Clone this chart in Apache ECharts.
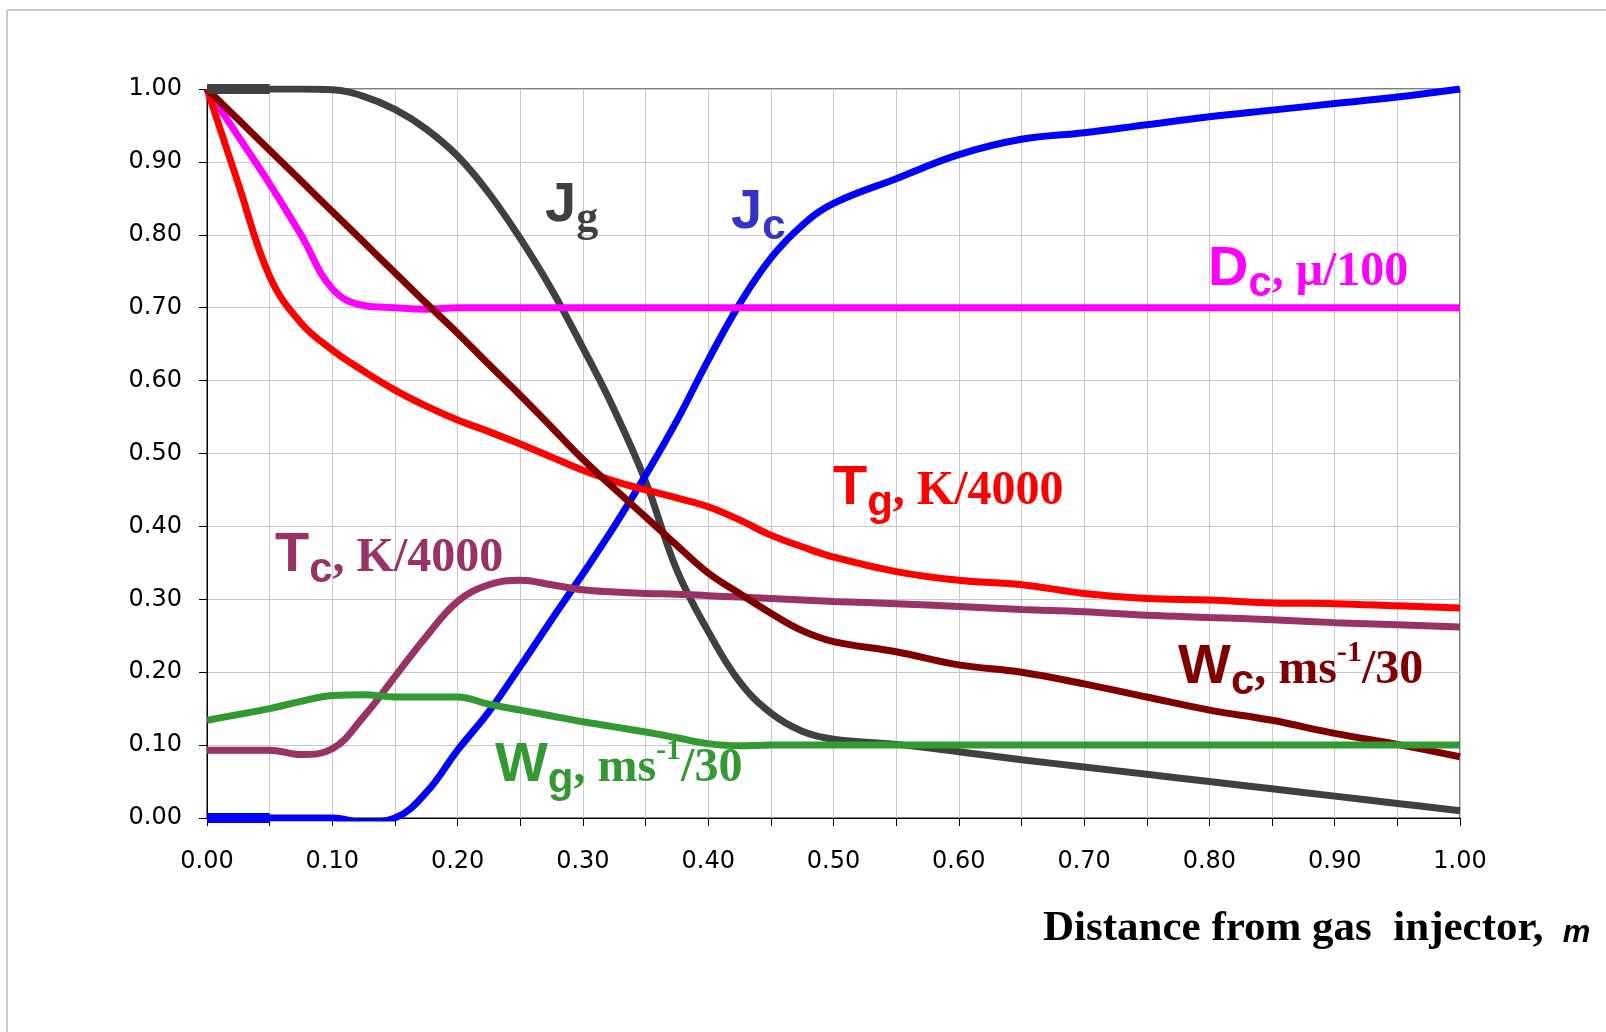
<!DOCTYPE html>
<html>
<head>
<meta charset="utf-8">
<title>Distance from gas injector</title>
<script src="https://cdn.jsdelivr.net/npm/echarts/dist/echarts.min.js"></script>
<style>
  html, body { margin: 0; padding: 0; background: #fff; }
  #main { width: 1606px; height: 1032px; }
</style>
</head>
<body>
<div id="main"></div>
<script>
// distance from the gas injector, m
const xs = [0, 0.025, 0.05, 0.075, 0.1, 0.125, 0.15, 0.175, 0.2, 0.225, 0.25, 0.275, 0.3, 0.325,
  0.35, 0.375, 0.4, 0.425, 0.45, 0.475, 0.5, 0.55, 0.6, 0.65, 0.7, 0.75, 0.8, 0.85, 0.9, 0.95, 1.0];

// normalised profiles
const jg = [1.0, 1.0, 1.0, 1.0, 0.999, 0.99, 0.972, 0.945, 0.908, 0.857, 0.795, 0.725, 0.645, 0.56,
  0.462, 0.34, 0.256, 0.187, 0.144, 0.119, 0.108, 0.101, 0.091, 0.080, 0.070, 0.060, 0.050, 0.040, 0.030, 0.020, 0.010];
const jc = [0, 0, 0, 0, 0, -0.006, 0, 0.035, 0.093, 0.146, 0.208, 0.272, 0.335, 0.40,
  0.47, 0.545, 0.628, 0.705, 0.768, 0.813, 0.843, 0.877, 0.910, 0.931, 0.94, 0.951, 0.962, 0.971, 0.980, 0.989, 1.0];
const dc = [1.0, 0.935, 0.87, 0.80, 0.726, 0.703, 0.70, 0.698, 0.70, 0.70, 0.70, 0.70, 0.70, 0.70,
  0.70, 0.70, 0.70, 0.70, 0.70, 0.70, 0.70, 0.70, 0.70, 0.70, 0.70, 0.70, 0.70, 0.70, 0.70, 0.70, 0.70];
const tg = [1.0, 0.87, 0.743, 0.679, 0.642, 0.613, 0.587, 0.565, 0.546, 0.53, 0.513, 0.495, 0.477, 0.462,
  0.45, 0.439, 0.427, 0.409, 0.388, 0.372, 0.358, 0.338, 0.326, 0.320, 0.308, 0.301, 0.299, 0.295, 0.294, 0.291, 0.288];
const tc = [0.093, 0.093, 0.093, 0.087, 0.095, 0.139, 0.194, 0.249, 0.297, 0.32, 0.326, 0.32, 0.313, 0.31,
  0.308, 0.307, 0.305, 0.303, 0.301, 0.299, 0.297, 0.294, 0.29, 0.286, 0.283, 0.278, 0.275, 0.272, 0.268, 0.265, 0.262];
const wc = [1.0, 0.958, 0.916, 0.874, 0.832, 0.79, 0.748, 0.706, 0.665, 0.622, 0.58, 0.536, 0.492, 0.452,
  0.413, 0.374, 0.336, 0.308, 0.281, 0.257, 0.242, 0.228, 0.21, 0.20, 0.184, 0.166, 0.148, 0.134, 0.116, 0.101, 0.084];
const wg = [0.134, 0.142, 0.150, 0.160, 0.168, 0.169, 0.166, 0.166, 0.166, 0.156, 0.148, 0.14, 0.132, 0.125,
  0.118, 0.11, 0.102, 0.099, 0.10, 0.10, 0.10, 0.10, 0.10, 0.10, 0.10, 0.10, 0.10, 0.10, 0.10, 0.10, 0.10];

// the short heavier stubs that Jg and Jc start with
const stubX = [0, 0.05];
const jgStub = [1.0, 1.0];
const jcStub = [0, 0];

const seriesNames = ['Jg', 'Jc', 'Dc', 'Tg', 'Tc', 'Wc', 'Wg'];
const seriesData = [jg, jc, dc, tg, tc, wc, wg];
const seriesColors = ['#404040', '#0000ff', '#ff00ff', '#ff0000', '#993366', '#800000', '#339933'];

const axisFont = 'DejaVu Sans';
const chart = echarts.init(document.getElementById('main'));

const lineSeries = seriesNames.map(function (name, i) {
  return {
    name: name,
    type: 'line',
    smooth: 0.4,
    showSymbol: false,
    data: xs.map(function (x, k) { return [x, seriesData[i][k]]; }),
    lineStyle: {color: seriesColors[i], width: 7},
    itemStyle: {color: seriesColors[i]}
  };
});
[[jgStub, seriesColors[0]], [jcStub, seriesColors[1]]].forEach(function (s) {
  lineSeries.push({
    type: 'line',
    showSymbol: false,
    clip: false,
    data: stubX.map(function (x, k) { return [x, s[0][k]]; }),
    lineStyle: {color: s[1], width: 10, cap: 'butt'}
  });
});

let option = {
  animation: false,
  backgroundColor: '#fff',
  grid: {
    left: 207, right: 146, top: 89, bottom: 214,
    show: true, borderColor: '#000', borderWidth: 1
  },
  xAxis: {
    type: 'value', min: 0, max: 1, interval: 0.05,
    axisLine: {lineStyle: {color: '#000', width: 1}},
    axisTick: {show: true, length: 8, lineStyle: {color: '#000'}},
    splitLine: {show: true, lineStyle: {color: '#c8c8c8', width: 1}},
    axisLabel: {
      color: '#000', fontFamily: axisFont, fontSize: 24, margin: 32,
      formatter: function (v) {
        return Math.round(v * 100) % 10 === 0 ? v.toFixed(2) : '';
      }
    }
  },
  yAxis: {
    type: 'value', min: 0, max: 1, interval: 0.1,
    axisLine: {show: true, lineStyle: {color: '#000', width: 1}},
    axisTick: {show: true, length: 8, lineStyle: {color: '#000'}},
    splitLine: {show: true, lineStyle: {color: '#c8c8c8', width: 1}},
    axisLabel: {
      color: '#000', fontFamily: axisFont, fontSize: 24, margin: 25,
      formatter: function (v) { return v.toFixed(2); }
    }
  },
  series: lineSeries
};
chart.setOption(option);

/**
 * curve labels: main letter, subscript, then the unit part
 */
const SANS = '"Liberation Sans", Arial, sans-serif';
const SERIF = '"Liberation Serif", "Times New Roman", serif';
const STY = {
  big:  {font: 'bold 56px ' + SANS, size: 56, shift: 0},
  sub:  {font: 'bold 42px ' + SANS, size: 42, shift: 10},
  subs: {font: 'bold 44px ' + SERIF, size: 44, shift: 10},
  unit: {font: 'bold 48px ' + SERIF, size: 48, shift: 0},
  sup:  {font: 'bold 30px ' + SERIF, size: 30, shift: -23}
};
const curveLabels = [
  {x: 0.2698, y: 0.8134, color: '#404040', parts: [['J', 'big'], ['g', 'subs']]},
  {x: 0.4182, y: 0.8038, color: '#3333cc', parts: [['J', 'big'], ['c', 'sub']]},
  {x: 0.7989, y: 0.7257, color: '#ff00ff', parts: [['D', 'big'], ['c', 'sub'], [', \u03bc/100', 'unit']]},
  {x: 0.4996, y: 0.4252, color: '#ff0000', parts: [['T', 'big'], ['g', 'sub'], [', K/4000', 'unit']]},
  {x: 0.0543, y: 0.3333, color: '#993366', parts: [['T', 'big'], ['c', 'sub'], [', K/4000', 'unit']]},
  {x: 0.7750, y: 0.1797, color: '#800000', parts: [['W', 'big'], ['c', 'sub'], [', ms', 'unit'], ['-1', 'sup'], ['/30', 'unit']]},
  {x: 0.2298, y: 0.0453, color: '#339933', parts: [['W', 'big'], ['g', 'sub'], [', ms', 'unit'], ['-1', 'sup'], ['/30', 'unit']]}
];

const mctx = document.createElement('canvas').getContext('2d');
function textWidth(t, font) {
  mctx.font = font;
  return mctx.measureText(t).width;
}

// place a run of text pieces on a common baseline
function textRun(x0, baseY, color, parts) {
  let cx = x0;
  const out = [];
  parts.forEach(function (p) {
    const st = p.style;
    out.push({
      type: 'text', x: cx, y: baseY + st.shift - st.size * 0.345, silent: true, z: 100,
      style: {
        text: p.text, font: st.font, fill: color,
        align: 'left', verticalAlign: 'middle', textAlign: 'left', textVerticalAlign: 'middle'
      }
    });
    cx += textWidth(p.text, st.font);
  });
  return out;
}

let graphics = [];
curveLabels.forEach(function (lab) {
  const pt = chart.convertToPixel({gridIndex: 0}, [lab.x, lab.y]);
  const parts = lab.parts.map(function (p) { return {text: p[0], style: STY[p[1]]}; });
  graphics = graphics.concat(textRun(pt[0], pt[1], lab.color, parts));
});

// x axis title
graphics = graphics.concat(textRun(1043, 944, '#000', [
  {text: 'Distance from gas  injector, ', style: {font: 'bold 43px ' + SERIF, size: 43, shift: 0}},
  {text: ' m', style: {font: 'bold italic 31px ' + SANS, size: 31, shift: 0}}
]));

// thin frame lines on top and left of the picture
graphics.push({type: 'line', silent: true, shape: {x1: 7, y1: 10, x2: 1606, y2: 10}, style: {stroke: '#c8c8c8', lineWidth: 2}});
graphics.push({type: 'line', silent: true, shape: {x1: 7, y1: 10, x2: 7, y2: 1032}, style: {stroke: '#c8c8c8', lineWidth: 2}});

chart.setOption({graphic: graphics});
</script>
</body>
</html>
